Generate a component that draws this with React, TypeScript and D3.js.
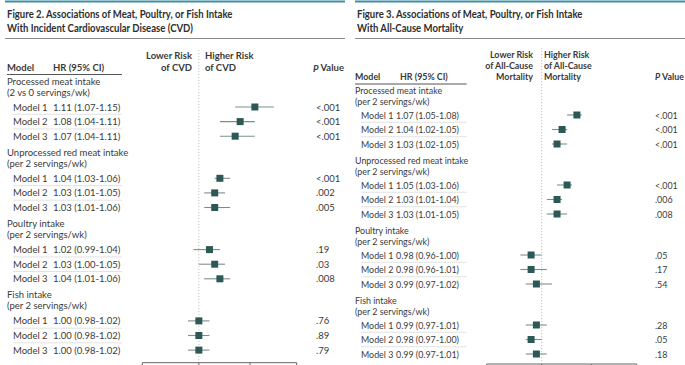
import React from "react";
import * as d3 from "d3";

const W = 685;
const H = 365;

// ---------- Data ----------
const groupLabels = ["Processed meat intake", "Unprocessed red meat intake", "Poultry intake", "Fish intake"];
const cvdGroupSubs = ["(2 vs 0 servings/wk)", "(per 2 servings/wk)", "(per 2 servings/wk)", "(per 2 servings/wk)"];
const mortGroupSubs = ["(per 2 servings/wk)", "(per 2 servings/wk)", "(per 2 servings/wk)", "(per 2 servings/wk)"];
const modelLabels = ["Model 1", "Model 2", "Model 3"];

const cvdHR = [1.11, 1.08, 1.07, 1.04, 1.03, 1.03, 1.02, 1.03, 1.04, 1.0, 1.0, 1.0];
const cvdLo = [1.07, 1.04, 1.04, 1.03, 1.01, 1.01, 0.99, 1.0, 1.01, 0.98, 0.98, 0.98];
const cvdHi = [1.15, 1.11, 1.11, 1.06, 1.05, 1.06, 1.04, 1.05, 1.06, 1.02, 1.02, 1.02];
const cvdP = ["<.001", "<.001", "<.001", "<.001", ".002", ".005", ".19", ".03", ".008", ".76", ".89", ".79"];

const mortHR = [1.07, 1.04, 1.03, 1.05, 1.03, 1.03, 0.98, 0.98, 0.99, 0.99, 0.98, 0.99];
const mortLo = [1.05, 1.02, 1.02, 1.03, 1.01, 1.01, 0.96, 0.96, 0.97, 0.97, 0.97, 0.97];
const mortHi = [1.08, 1.05, 1.05, 1.06, 1.04, 1.05, 1.0, 1.01, 1.02, 1.01, 1.0, 1.01];
const mortP = ["<.001", "<.001", "<.001", "<.001", ".006", ".008", ".05", ".17", ".54", ".28", ".05", ".18"];

const axisDomain = [0.9, 1.2];
const axisTicks = [0.9, 1.0, 1.1, 1.2];

// ---------- Style ----------
const FONT = "Lato, 'Open Sans', sans-serif";
const TEAL_BAR = "#3b8fa6";
const BOX = "#2c5955";
const CI = "#7d8f8c";
const TEXT = "#3a3a3a";
const TITLE = 11;
const TITLE_SX = 0.87;

type TProps = {
  x: number;
  y: number;
  size: number;
  weight?: number;
  anchor?: "start" | "end" | "middle";
  sx?: number;
  fill?: string;
  children: React.ReactNode;
};

function T({ x, y, size, weight = 400, anchor = "start", sx = 1, fill = TEXT, children }: TProps) {
  return (
    <text
      transform={`translate(${x},${y}) scale(${sx},1)`}
      textAnchor={anchor}
      dominantBaseline="central"
      fontSize={size}
      fontWeight={weight}
      fill={fill}
    >
      {children}
    </text>
  );
}

type Layout = {
  fs: number;
  groupX: number;
  modelX: number;
  hrX: number;
  hrHeadX: number;
  pX: number;
  pHeadX: number;
  lineEnd: number;
  range: [number, number];
  headY: number[];
  modelHeadY: number;
  underlineY: number;
  g0: number;
  gStep: number;
  sub: number;
  m0: number;
  mStep: number;
  axisY: number;
  higherX: number;
  lowerX: number;
  refTop: number;
};

type PanelProps = {
  left: number;
  right: number;
  title: string[];
  lower: string[];
  higher: string[];
  subs: string[];
  hr: number[];
  lo: number[];
  hi: number[];
  p: string[];
  L: Layout;
};

const fmt = (v: number) => v.toFixed(2);

function Panel({ left, right, title, lower, higher, subs, hr, lo, hi, p, L }: PanelProps) {
  const x = d3.scaleLog().domain(axisDomain).range(L.range);
  const fs = L.fs;
  const rows: React.ReactNode[] = [];
  groupLabels.forEach((g, gi) => {
    const y0 = L.g0 + gi * L.gStep;
    rows.push(
      <T key={"g" + gi} x={L.groupX} y={y0} size={fs}>
        {g}
      </T>
    );
    rows.push(
      <T key={"s" + gi} x={L.groupX} y={y0 + L.sub} size={fs}>
        {subs[gi]}
      </T>
    );
    modelLabels.forEach((m, mi) => {
      const i = gi * 3 + mi;
      const y = y0 + L.m0 + mi * L.mStep;
      rows.push(
        <g key={"r" + i}>
          <T x={L.modelX} y={y} size={fs}>
            {m}
          </T>
          <T x={L.hrX} y={y} size={fs}>
            {`${fmt(hr[i])} (${fmt(lo[i])}-${fmt(hi[i])})`}
          </T>
          {mi < 2 && (
            <line x1={L.modelX} x2={L.lineEnd} y1={y + L.mStep / 2} y2={y + L.mStep / 2} stroke="#dadada" strokeWidth={0.8} />
          )}
          <line x1={x(lo[i])} x2={x(hi[i])} y1={y} y2={y} stroke={CI} strokeWidth={1.1} />
          <rect x={x(hr[i]) - 3.5} y={y - 3.5} width={7} height={7} fill={BOX} />
          <T x={L.pX} y={y} size={fs}>
            {p[i]}
          </T>
        </g>
      );
    });
  });

  return (
    <g>
      <line x1={left} x2={right} y1={1.5} y2={1.5} stroke={TEAL_BAR} strokeWidth={2.2} />
      {title.map((t, i) => (
        <T key={t} x={left + 2} y={13.5 + i * 14.5} size={TITLE} weight={700} sx={TITLE_SX} fill="#2e2e2e">
          {t}
        </T>
      ))}
      <line x1={left} x2={right} y1={38.5} y2={38.5} stroke="#8a8a8a" strokeWidth={1} />
      {lower.map((t, i) => (
        <T key={"lo" + i} x={L.lowerX} y={L.headY[i]} anchor="end" weight={700} size={fs}>
          {t}
        </T>
      ))}
      {higher.map((t, i) => (
        <T key={"hi" + i} x={L.higherX} y={L.headY[i]} weight={700} size={fs}>
          {t}
        </T>
      ))}
      <T x={L.groupX} y={L.modelHeadY} weight={700} size={fs}>
        Model
      </T>
      <T x={L.hrHeadX} y={L.modelHeadY} weight={700} size={fs}>
        HR (95% CI)
      </T>
      <T x={L.pHeadX} y={L.modelHeadY} weight={700} size={fs}>
        <tspan fontStyle="italic">P</tspan> Value
      </T>
      <line x1={L.groupX} x2={L.lineEnd} y1={L.underlineY} y2={L.underlineY} stroke="#555" strokeWidth={1} />
      <line x1={x(1)} x2={x(1)} y1={L.refTop} y2={L.axisY} stroke="#bdbdbd" strokeWidth={0.9} strokeDasharray="1.2,1.8" />
      {rows}
      <line x1={x(axisDomain[0])} x2={x(axisDomain[1])} y1={L.axisY} y2={L.axisY} stroke="#666" strokeWidth={1} />
      {axisTicks.map((t) => (
        <line key={t} x1={x(t)} x2={x(t)} y1={L.axisY} y2={L.axisY + 4} stroke="#666" strokeWidth={1} />
      ))}
    </g>
  );
}

export default function App() {
  return (
    <svg width={W} height={H} style={{ position: "absolute", left: 0, top: 0, background: "#fff" }} fontFamily={FONT}>
      <rect width={W} height={H} fill="#fff" />
      <Panel
        left={5}
        right={345}
        title={["Figure 2. Associations of Meat, Poultry, or Fish Intake", "With Incident Cardiovascular Disease (CVD)"]}
        lower={["Lower Risk", "of CVD"]}
        higher={["Higher Risk", "of CVD"]}
        subs={cvdGroupSubs}
        hr={cvdHR}
        lo={cvdLo}
        hi={cvdHi}
        p={cvdP}
        L={{
          fs: 9.5,
          groupX: 7,
          modelX: 13,
          hrX: 53,
          hrHeadX: 53,
          pX: 316,
          pHeadX: 313,
          lineEnd: 122,
          range: [142.3, 296.7],
          headY: [55, 67.7],
          modelHeadY: 67.7,
          underlineY: 74.5,
          g0: 81,
          gStep: 71.3,
          sub: 11,
          m0: 26,
          mStep: 14.6,
          axisY: 362.7,
          higherX: 205,
          lowerX: 192,
          refTop: 50,
        }}
      />
      <Panel
        left={355}
        right={685}
        title={["Figure 3. Associations of Meat, Poultry, or Fish Intake", "With All-Cause Mortality"]}
        lower={["Lower Risk", "of All-Cause", "Mortality"]}
        higher={["Higher Risk", "of All-Cause", "Mortality"]}
        subs={mortGroupSubs}
        hr={mortHR}
        lo={mortLo}
        hi={mortHi}
        p={mortP}
        L={{
          fs: 8.9,
          groupX: 355,
          modelX: 361,
          hrX: 396,
          hrHeadX: 400,
          pX: 655,
          pHeadX: 655,
          lineEnd: 466.7,
          range: [486.7, 636.7],
          headY: [54.3, 65.3, 76.3],
          modelHeadY: 76.3,
          underlineY: 84,
          g0: 90.5,
          gStep: 70,
          sub: 10.5,
          m0: 24.5,
          mStep: 14.5,
          axisY: 364,
          higherX: 544,
          lowerX: 533,
          refTop: 48,
        }}
      />
    </svg>
  );
}
